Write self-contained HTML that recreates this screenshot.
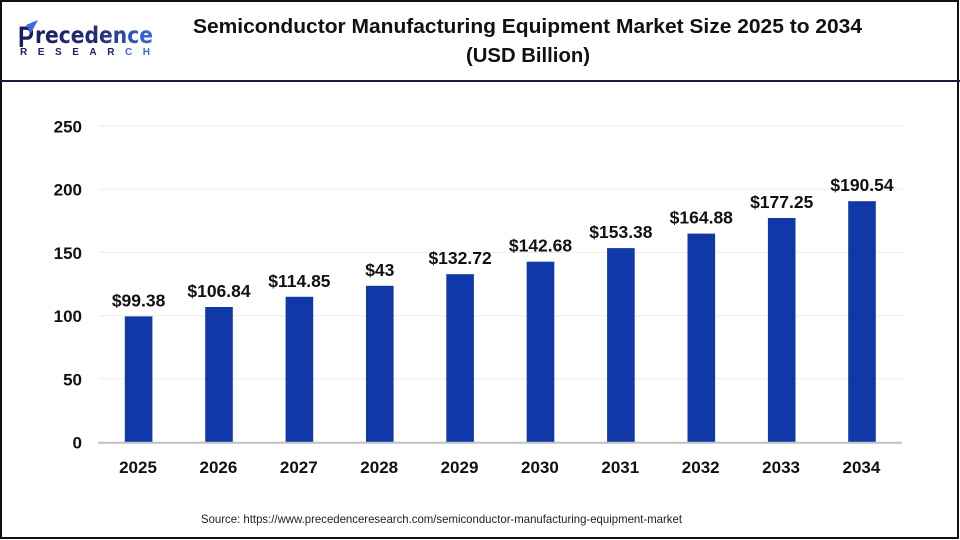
<!DOCTYPE html>
<html><head><meta charset="utf-8"><style>
html,body{margin:0;padding:0;background:#fff;}
svg{display:block;}
</style></head><body>
<svg width="960" height="540" viewBox="0 0 960 540" xmlns="http://www.w3.org/2000/svg">
<defs>
<linearGradient id="lg" x1="0" y1="0" x2="1" y2="0">
<stop offset="0" stop-color="#1b1f5f"/><stop offset="0.55" stop-color="#22307a"/><stop offset="1" stop-color="#3a6ae0"/>
</linearGradient>
</defs>
<rect x="0" y="0" width="960" height="540" fill="#fff"/>
<rect x="1" y="1" width="957" height="537" fill="none" stroke="#111" stroke-width="2"/>
<rect x="0" y="80" width="960" height="2" fill="#1a1a40"/>

<!-- logo -->
<text x="18" y="47" font-family="Liberation Sans, sans-serif" font-weight="bold" font-size="30" textLength="16" lengthAdjust="spacingAndGlyphs" fill="#1b1f5f">P</text>
<path d="M26 25 L38 20 L31 33 Z" fill="#3a6ae0"/>
<text x="35" y="43" font-family="DejaVu Sans, sans-serif" font-weight="bold" font-size="23" textLength="118" lengthAdjust="spacingAndGlyphs" fill="url(#lg)">recedence</text>
<text x="20" y="55" font-family="Liberation Sans, sans-serif" font-weight="bold" font-size="10" textLength="130" lengthAdjust="spacing" fill="#1b1f5f">RESEAR<tspan fill="#3a6ae0">CH</tspan></text>

<!-- title -->
<g font-family="Liberation Sans, sans-serif" font-weight="bold" fill="#111">
<text x="193" y="33" font-size="20" textLength="669" lengthAdjust="spacingAndGlyphs">Semiconductor Manufacturing Equipment Market Size 2025 to 2034</text>
<text x="466" y="62" font-size="20" textLength="124" lengthAdjust="spacingAndGlyphs">(USD Billion)</text>
</g>

<!-- gridlines -->
<g stroke="#ebebeb" stroke-width="1">
<line x1="99" y1="126" x2="904" y2="126"/>
<line x1="99" y1="189.2" x2="904" y2="189.2"/>
<line x1="99" y1="252.4" x2="904" y2="252.4"/>
<line x1="99" y1="315.6" x2="904" y2="315.6"/>
<line x1="99" y1="378.8" x2="904" y2="378.8"/>
</g>

<!-- y labels -->
<g font-family="Liberation Sans, sans-serif" font-weight="bold" font-size="17" fill="#111" text-anchor="end">
<text x="82" y="132.5">250</text>
<text x="82" y="195.7">200</text>
<text x="82" y="258.9">150</text>
<text x="82" y="322.1">100</text>
<text x="82" y="385.3">50</text>
<text x="82" y="448.5">0</text>
</g>

<!-- bars -->
<g fill="#1038a8">
<rect x="124.8" y="316.4" width="27.6" height="125.6"/>
<rect x="205.2" y="307.0" width="27.6" height="135.0"/>
<rect x="285.6" y="296.8" width="27.6" height="145.2"/>
<rect x="366.0" y="285.8" width="27.6" height="156.2"/>
<rect x="446.3" y="274.2" width="27.6" height="167.8"/>
<rect x="526.7" y="261.7" width="27.6" height="180.3"/>
<rect x="607.1" y="248.1" width="27.6" height="193.9"/>
<rect x="687.5" y="233.6" width="27.6" height="208.4"/>
<rect x="767.9" y="218.0" width="27.6" height="224.0"/>
<rect x="848.2" y="201.2" width="27.6" height="240.8"/>
</g>
<line x1="98" y1="442.7" x2="902" y2="442.7" stroke="#c0c0c0" stroke-width="2"/>

<!-- value labels -->
<g font-family="Liberation Sans, sans-serif" font-weight="bold" font-size="17.5" fill="#111" text-anchor="middle">
<text x="138.6" y="306.4">$99.38</text>
<text x="219.0" y="297.0">$106.84</text>
<text x="299.4" y="286.8">$114.85</text>
<text x="379.8" y="275.8">$43</text>
<text x="460.1" y="264.2">$132.72</text>
<text x="540.5" y="251.7">$142.68</text>
<text x="620.9" y="238.1">$153.38</text>
<text x="701.3" y="223.6">$164.88</text>
<text x="781.7" y="208.0">$177.25</text>
<text x="862.0" y="191.2">$190.54</text>
</g>

<!-- x labels -->
<g font-family="Liberation Sans, sans-serif" font-weight="bold" font-size="17" fill="#111" text-anchor="middle">
<text x="138.0" y="473">2025</text>
<text x="218.4" y="473">2026</text>
<text x="298.8" y="473">2027</text>
<text x="379.2" y="473">2028</text>
<text x="459.5" y="473">2029</text>
<text x="539.9" y="473">2030</text>
<text x="620.3" y="473">2031</text>
<text x="700.7" y="473">2032</text>
<text x="781.1" y="473">2033</text>
<text x="861.4" y="473">2034</text>
</g>

<!-- source -->
<text x="201" y="523" font-family="Liberation Sans, sans-serif" font-size="12" fill="#222" textLength="481" lengthAdjust="spacingAndGlyphs">Source: https://www.precedenceresearch.com/semiconductor-manufacturing-equipment-market</text>
</svg>
</body></html>
